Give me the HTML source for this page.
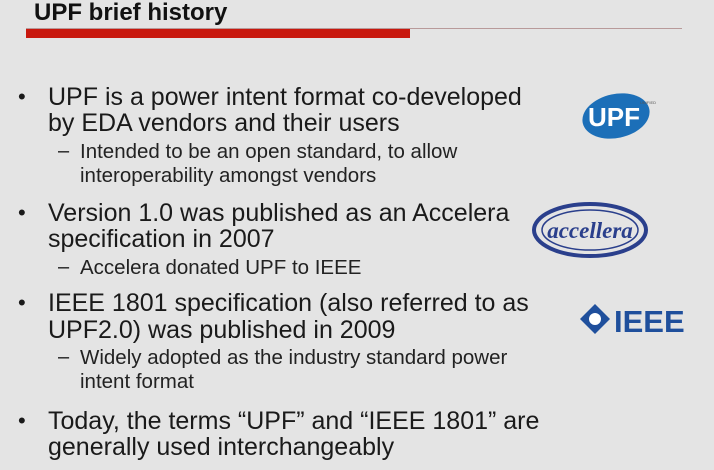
<!DOCTYPE html>
<html><head><style>
body{margin:0;width:714px;height:470px;background:#e4e4e4;position:relative;overflow:hidden;font-family:"Liberation Sans",Arial,sans-serif;color:#1a1a1a}
.a{position:absolute;white-space:nowrap}
.m{font-size:25px;left:48px}
.s{font-size:20.5px;left:80px;color:#222}
.b{position:absolute;left:18px;font-size:22px}
.d{position:absolute;left:58px;font-size:20px}
</style></head><body>
<div class="a" style="left:34px;top:-1px;font-size:24px;font-weight:bold;color:#111">UPF brief history</div>
<div class="a" style="left:26px;top:28px;width:656px;height:1px;background:#b89a9a"></div>
<div class="a" style="left:26px;top:29px;width:384px;height:9px;background:#c8180e"></div>

<div class="b" style="top:84px">•</div>
<div class="a m" style="top:83px">UPF is a power intent format co-developed</div>
<div class="a m" style="top:109px">by EDA vendors and their users</div>
<div class="d" style="top:140px">–</div>
<div class="a s" style="top:140px">Intended to be an open standard, to allow</div>
<div class="a s" style="top:164px">interoperability amongst vendors</div>

<div class="b" style="top:200px">•</div>
<div class="a m" style="top:199px">Version 1.0 was published as an Accelera</div>
<div class="a m" style="top:225px">specification in 2007</div>
<div class="d" style="top:256px">–</div>
<div class="a s" style="top:256px">Accelera donated UPF to IEEE</div>

<div class="b" style="top:290px">•</div>
<div class="a m" style="top:289px">IEEE 1801 specification (also referred to as</div>
<div class="a m" style="top:316px">UPF2.0) was published in 2009</div>
<div class="d" style="top:346px">–</div>
<div class="a s" style="top:346px">Widely adopted as the industry standard power</div>
<div class="a s" style="top:370px">intent format</div>

<div class="b" style="top:408px">•</div>
<div class="a m" style="top:407px">Today, the terms “UPF” and “IEEE 1801” are</div>
<div class="a m" style="top:433px">generally used interchangeably</div>

<svg class="a" style="left:580px;top:88px" width="80" height="55">
<ellipse cx="36" cy="28" rx="34" ry="22" fill="#1c6fb8" transform="rotate(-12 36 28)"/>
<text x="8" y="38" font-family="Liberation Sans" font-weight="bold" font-size="26" fill="#fff">UPF</text>
<text x="60" y="16" font-size="4" fill="#555">UNIFIED</text>
</svg>
<svg class="a" style="left:530px;top:200px" width="120" height="60">
<ellipse cx="60" cy="30" rx="56" ry="26" fill="none" stroke="#2a3f8c" stroke-width="4"/>
<ellipse cx="60" cy="30" rx="48" ry="20" fill="none" stroke="#2a3f8c" stroke-width="1.5"/>
<text x="60" y="38" text-anchor="middle" font-family="Liberation Serif" font-style="italic" font-weight="bold" font-size="23" fill="#2a3f8c">accellera</text>
</svg>
<svg class="a" style="left:578px;top:302px" width="120" height="36">
<polygon points="17,2 32,17 17,32 2,17" fill="#1f4f9c"/>
<circle cx="17" cy="17" r="6" fill="#fff"/>
<text x="36" y="30" font-family="Liberation Sans" font-weight="bold" font-size="31" fill="#1f4f9c">IEEE</text>
</svg>
</body></html>
